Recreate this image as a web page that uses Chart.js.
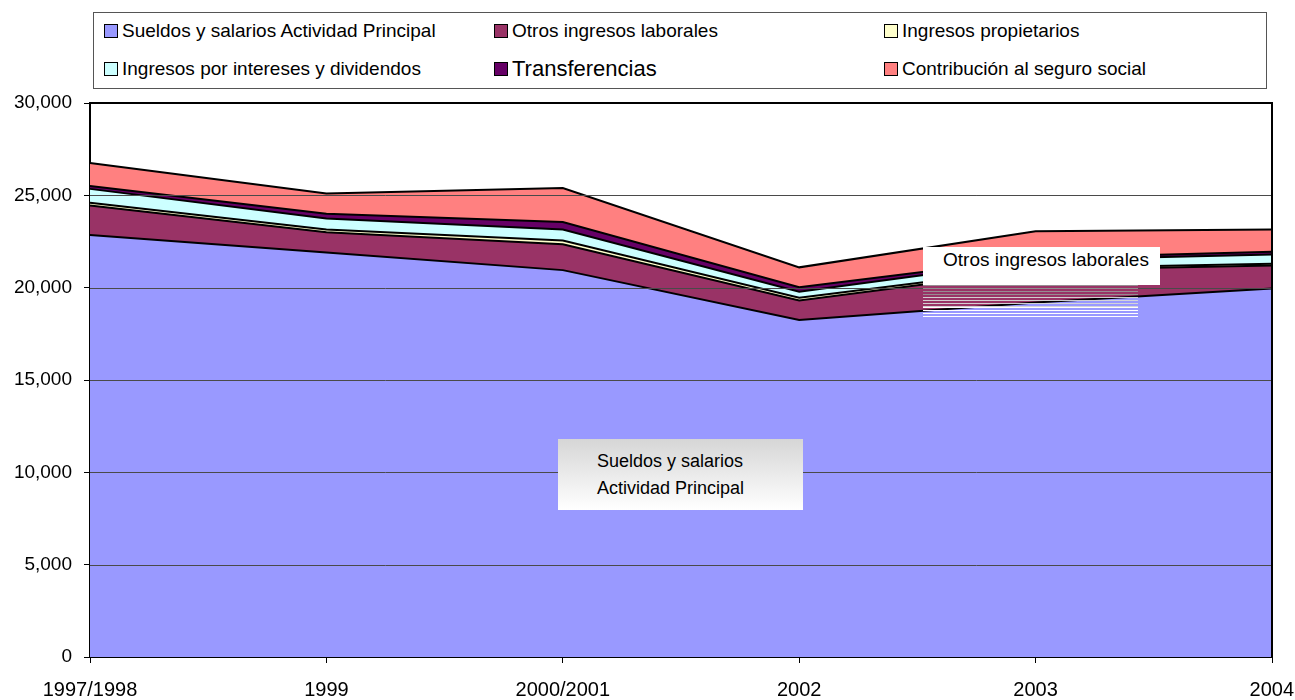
<!DOCTYPE html>
<html>
<head>
<meta charset="utf-8">
<script src="https://cdn.jsdelivr.net/npm/chart.js@4/dist/chart.umd.min.js"></script>
<style>
  body { margin: 0; background: #fff; font-family: "Liberation Sans", Arial, sans-serif; }
  #wrap { position: relative; width: 1295px; height: 700px; }
  #legend {
    position: absolute; left: 93px; top: 12px; width: 1174px; height: 77px;
    border: 1px solid #555; box-sizing: border-box; background: #fff;
  }
  .item { position: absolute; display: flex; align-items: center; font-size: 19px; color: #000; white-space: nowrap; }
  .sw { width: 14px; height: 14px; border: 1px solid #000; margin-right: 4px; box-sizing: border-box; }
  .note { position: absolute; color: #000; }
</style>
</head>
<body>
<div id="wrap">
  <canvas id="chart" width="1295" height="700"></canvas>
  <div id="legend"></div>
  <div class="note" style="left:558px; top:439px; width:245px; height:71px; background:linear-gradient(#d6d6d6, #ffffff); box-sizing:border-box; padding:9px 0 0 39px; font-size:18px; line-height:27px;">Sueldos y salarios<br>Actividad Principal</div>
  <div style="position:absolute; left:923px; top:285px; width:215px; height:12px; background:repeating-linear-gradient(to bottom, rgba(150,150,150,0.9) 0 1px, transparent 1px 3px);"></div>
  <div style="position:absolute; left:923px; top:297px; width:215px; height:10px; background:repeating-linear-gradient(to bottom, rgba(215,215,215,0.95) 0 1px, transparent 1px 3px);"></div>
  <div style="position:absolute; left:923px; top:307px; width:215px; height:11px; background:repeating-linear-gradient(to bottom, rgba(255,255,255,1) 0 1px, transparent 1px 3px);"></div>
  <div class="note" style="left:923px; top:247px; width:237px; height:38px; background:#fff; box-sizing:border-box; padding:0 0 0 20px; font-size:19px; line-height:26px;">Otros ingresos laborales</div>
</div>
<script>
// Categories and series
const years = ['1997/1998', '1999', '2000/2001', '2002', '2003', '2004'];

const sueldos        = [22850, 21900, 20950, 18250, 19200, 19950];
const otrosLaborales = [1600, 1100, 1400, 1050, 1750, 1250];
const propietarios   = [150, 150, 200, 150, 100, 100];
const intereses      = [750, 600, 600, 330, 450, 500];
const transferencias = [150, 250, 400, 240, 100, 150];
const contribucion   = [1250, 1100, 1850, 1080, 1450, 1200];

const seriesNames = [
    'Sueldos y salarios Actividad Principal',
    'Otros ingresos laborales',
    'Ingresos propietarios',
    'Ingresos por intereses y dividendos',
    'Transferencias',
    'Contribución al seguro social'
];
const seriesColors = ['#9999FF', '#993366', '#FFFFCC', '#CCFFFF', '#660066', '#FF8080'];
const seriesData = [sueldos, otrosLaborales, propietarios, intereses, transferencias, contribucion];

const yTicks = [0, 5000, 10000, 15000, 20000, 25000, 30000];

// Build the HTML legend (3 columns, 2 rows)
const legendPos = [
    [10, 18], [400, 18], [790, 18],
    [10, 56], [400, 56], [790, 56]
];
const legend = document.getElementById('legend');
seriesNames.forEach((name, i) => {
    const item = document.createElement('div');
    item.className = 'item';
    item.style.left = legendPos[i][0] + 'px';
    item.style.top = (legendPos[i][1] - 12) + 'px';
    item.style.height = '24px';
    if (name === 'Transferencias') item.style.fontSize = '22px';
    item.innerHTML = `<span class="sw" style="background:${seriesColors[i]}"></span>${name}`;
    legend.appendChild(item);
});

// Gridlines over the areas, frame on top/right, and x labels kept inside the canvas
const overlayPlugin = {
    id: 'overlay',
    afterDatasetsDraw(chart) {
        const a = chart.chartArea;
        const ctx = chart.ctx;
        const yScale = chart.scales.y;
        ctx.save();
        ctx.strokeStyle = '#4a4a4a';
        ctx.lineWidth = 1;
        yTicks.forEach(v => {
            if (v === 0) return;
            const y = Math.round(yScale.getPixelForValue(v)) + 0.5;
            ctx.beginPath();
            ctx.moveTo(a.left, y);
            ctx.lineTo(a.right, y);
            ctx.stroke();
        });
        ctx.strokeStyle = '#000';
        ctx.lineWidth = 2;
        ctx.beginPath();
        ctx.moveTo(a.left, a.top);
        ctx.lineTo(a.right, a.top);
        ctx.lineTo(a.right, a.bottom);
        ctx.stroke();
        ctx.restore();
    },
    afterDraw(chart) {
        const ctx = chart.ctx;
        const xScale = chart.scales.x;
        ctx.save();
        ctx.font = '20px "Liberation Sans", Arial';
        ctx.fillStyle = '#000';
        ctx.textBaseline = 'middle';
        years.forEach((label, i) => {
            const x = xScale.getPixelForValue(i);
            const w = ctx.measureText(label).width;
            let left = x - w / 2;
            left = Math.max(0, Math.min(chart.width - w - 1, left));
            ctx.fillText(label, left, 690);
        });
        ctx.restore();
    }
};

const datasets = seriesData.map((data, i) => ({
    label: seriesNames[i],
    data: data,
    backgroundColor: seriesColors[i],
    borderColor: '#000',
    borderWidth: 2,
    pointRadius: 0,
    tension: 0,
    fill: i === 0 ? 'origin' : '-1'
}));

const ctx = document.getElementById('chart').getContext('2d');
new Chart(ctx, {
    type: 'line',
    data: { labels: years, datasets: datasets },
    options: {
        responsive: false,
        animation: false,
        layout: { padding: { top: 103, right: 23, left: 0, bottom: 0 } },
        plugins: {
            legend: { display: false },
            tooltip: { enabled: false }
        },
        scales: {
            x: {
                offset: false,
                grid: { drawOnChartArea: false, drawTicks: true, tickLength: 6, color: '#000' },
                border: { color: '#000', width: 2 },
                ticks: { display: false },
                afterFit(scale) { scale.height = 43; }
            },
            y: {
                stacked: true,
                min: 0,
                max: 30000,
                afterBuildTicks(scale) { scale.ticks = yTicks.map(v => ({ value: v })); },
                grid: { color: '#4a4a4a', lineWidth: 1, tickLength: 6, tickColor: '#000' },
                border: { color: '#000', width: 2 },
                ticks: {
                    color: '#000', padding: 12,
                    font: { family: '"Liberation Sans", Arial', size: 19 },
                    callback: v => v.toLocaleString('en-US')
                },
                afterFit(scale) { scale.width = 90; }
            }
        }
    },
    plugins: [overlayPlugin]
});
</script>
</body>
</html>
